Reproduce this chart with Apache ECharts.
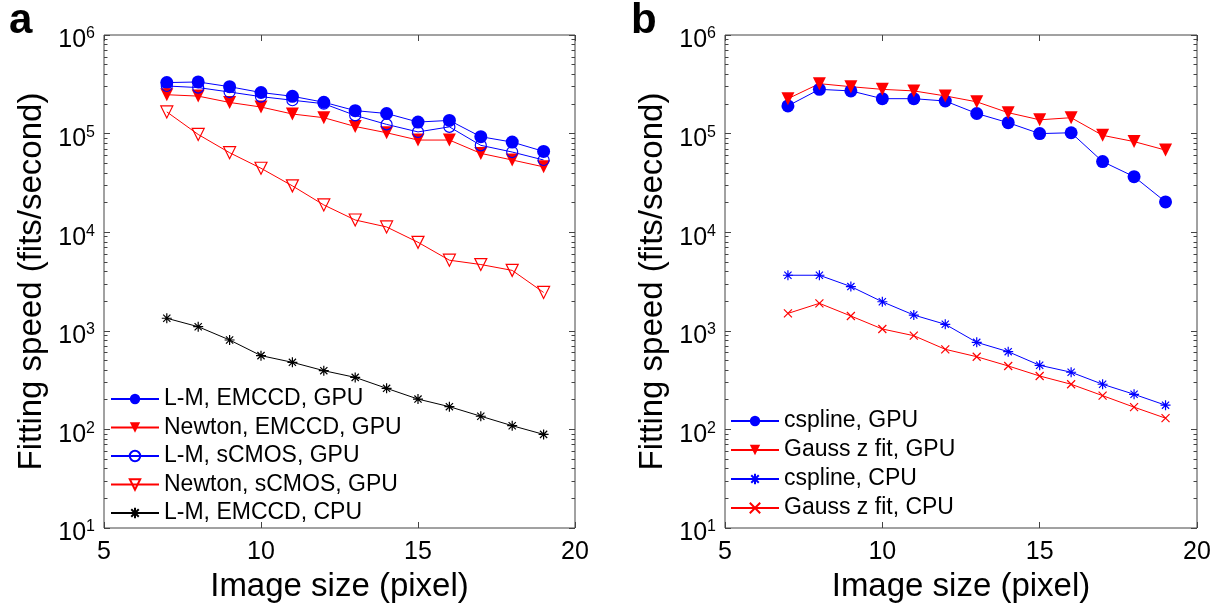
<!DOCTYPE html>
<html><head><meta charset="utf-8">
<script src="https://cdn.jsdelivr.net/npm/echarts@6/dist/echarts.min.js"></script>
<style>html,body{margin:0;padding:0;background:#fff}#c{width:1222px;height:614px}</style>
</head><body><div id="c"></div>
<script>
// ---------- data ----------
const imageSize = [7, 8, 9, 10, 11, 12, 13, 14, 15, 16, 17, 18, 19];
// panel a
const lmEmccdGpu     = [329000, 334000, 299000, 261000, 239000, 208000, 171000, 160000, 131000, 136000, 93000, 82000, 66000];
const newtonEmccdGpu = [248000, 240000, 207000, 186000, 158000, 145000, 118000, 102000, 86000, 86000, 63000, 54000, 46000];
const lmScmosGpu     = [304000, 293000, 264000, 237000, 218000, 201000, 153000, 124000, 104000, 117000, 76000, 65000, 54000];
const newtonScmosGpu = [166000, 98000, 64000, 44500, 29500, 18900, 13300, 11300, 7900, 5200, 4700, 4100, 2450];
const lmEmccdCpu     = [1340, 1100, 807, 560, 479, 394, 337, 261, 203, 170, 136, 109, 89];
// panel b
const csplineGpu = [191000, 281000, 271000, 226000, 226000, 214000, 160000, 129000, 100000, 102000, 52000, 36600, 20300];
const gaussGpu   = [226000, 321000, 299000, 281000, 271000, 241000, 210000, 163000, 138000, 145000, 96000, 83000, 68000];
const csplineCpu = [3660, 3660, 2810, 1970, 1445, 1164, 764, 614, 447, 380, 287, 227, 176];
const gaussCpu   = [1500, 1900, 1413, 1043, 892, 649, 546, 440, 348, 287, 220, 168, 130];

const namesA = ['L-M, EMCCD, GPU', 'Newton, EMCCD, GPU', 'L-M, sCMOS, GPU', 'Newton, sCMOS, GPU', 'L-M, EMCCD, CPU'];
const namesB = ['cspline, GPU', 'Gauss z fit, GPU', 'cspline, CPU', 'Gauss z fit, CPU'];
const panelLetters = ['a', 'b'];
const xTitle = 'Image size (pixel)';
const yTitle = 'Fitting speed (fits/second)';
const xMin = 5, xMax = 20, xStep = 5;
const yMin = 10, yMax = 1e6;
const minorMultipliers = [2, 3, 4, 5, 6, 7, 8, 9];
const decadeExps = [1, 2, 3, 4, 5];

// ---------- style ----------
const FONT = 'Liberation Sans, Arial, Helvetica, sans-serif';
const BLUE = '#0000ff', RED = '#ff0000', BLACK = '#000000';
const AX = '#444444';
const STAR = 'path://M0,-1L0,1M-1,0L1,0M-0.72,-0.72L0.72,0.72M-0.72,0.72L0.72,-0.72';
const CROSS = 'path://M-1,-1L1,1M-1,1L1,-1';

const minorLogs = [];
decadeExps.forEach(d => minorMultipliers.forEach(m => minorLogs.push(Math.log10(m) + d)));

const pair = arr => imageSize.map((x, i) => [x, arr[i]]);

function series(name, data, idx, color, symbol, size, filled, rotate) {
  return {
    name, type: 'line', data: pair(data),
    xAxisIndex: idx * 2, yAxisIndex: idx * 4,
    symbol, symbolSize: size, symbolRotate: rotate || 0,
    showAllSymbol: true,
    lineStyle: { color, width: 1 },
    itemStyle: filled
      ? { color, borderColor: color, borderWidth: 0 }
      : { color: 'rgba(0,0,0,0)', borderColor: color, borderWidth: 1.2 },
    emphasis: { disabled: true },
    animation: false, z: 3
  };
}

const grids = [
  { left: 104, top: 35, width: 471, height: 493 },
  { left: 725, top: 35, width: 472, height: 493 }
].map(g => Object.assign(g, { show: true, borderColor: AX, borderWidth: 1, backgroundColor: 'transparent' }));

const tickLine = { color: AX, width: 1 };
const xAxes = [], yAxes = [];
[0, 1].forEach(gi => {
  xAxes.push({
    gridIndex: gi, type: 'value', position: 'bottom', min: xMin, max: xMax, interval: xStep,
    name: xTitle, nameLocation: 'middle', nameGap: 42,
    nameTextStyle: { fontSize: 33, color: BLACK, fontFamily: FONT },
    axisLine: { show: false },
    axisTick: { inside: true, length: 6, lineStyle: tickLine },
    axisLabel: { fontSize: 25, color: BLACK, fontFamily: FONT, margin: 12, showMinLabel: true, showMaxLabel: true, hideOverlap: false },
    splitLine: { show: false }
  });
  xAxes.push({
    gridIndex: gi, type: 'value', position: 'top', min: xMin, max: xMax, interval: xStep,
    axisLine: { show: false },
    axisTick: { inside: true, length: 6, lineStyle: tickLine },
    axisLabel: { show: false }, splitLine: { show: false }
  });
  yAxes.push({
    gridIndex: gi, type: 'log', logBase: 10, position: 'left', min: yMin, max: yMax,
    name: yTitle, nameLocation: 'middle', nameGap: 56,
    nameTextStyle: { fontSize: 33, color: BLACK, fontFamily: FONT },
    axisLine: { show: false },
    axisTick: { inside: true, length: 6, lineStyle: tickLine },
    axisLabel: {
      margin: 9, padding: [7, 0, 0, 0],
      formatter: v => '{b|10}{s|' + Math.round(Math.log10(v)) + '}',
      rich: {
        b: { fontSize: 25, lineHeight: 25, color: BLACK, fontFamily: FONT, padding: [4, 0, 0, 0] },
        s: { fontSize: 16, lineHeight: 16, color: BLACK, fontFamily: FONT, verticalAlign: 'top' }
      },
      showMinLabel: true, showMaxLabel: true
    },
    splitLine: { show: false }, minorTick: { show: false }
  });
  yAxes.push({
    gridIndex: gi, type: 'log', logBase: 10, position: 'right', min: yMin, max: yMax,
    axisLine: { show: false },
    axisTick: { inside: true, length: 6, lineStyle: tickLine },
    axisLabel: { show: false }, splitLine: { show: false }
  });
  ['left', 'right'].forEach(pos => yAxes.push({
    gridIndex: gi, type: 'value', position: pos, min: decadeExps[0], max: decadeExps[decadeExps.length - 1] + 1,
    axisLine: { show: false },
    axisTick: { inside: true, length: 3.5, lineStyle: tickLine, customValues: minorLogs },
    axisLabel: { show: false }, splitLine: { show: false }
  }));
});

const legendBase = {
  orient: 'vertical', padding: 0, itemWidth: 48, itemHeight: 13,
  textStyle: { fontSize: 23, color: BLACK, fontFamily: FONT, lineHeight: 26 },
  icon: undefined, inactiveColor: '#ccc', selectedMode: false
};

const option = {
  backgroundColor: '#ffffff',
  animation: false,
  title: [
    { text: panelLetters[0], left: 9, top: 0, padding: 0, textStyle: { fontSize: 42, fontWeight: 'bold', color: BLACK, fontFamily: FONT } },
    { text: panelLetters[1], left: 631, top: 0, padding: 0, textStyle: { fontSize: 42, fontWeight: 'bold', color: BLACK, fontFamily: FONT } }
  ],
  grid: grids,
  xAxis: xAxes,
  yAxis: yAxes,
  legend: [
    Object.assign({}, legendBase, { data: namesA, left: 110, top: 386, itemGap: 2.5 }),
    Object.assign({}, legendBase, { data: namesB, left: 730, top: 408, itemGap: 3 })
  ],
  series: [
    series(namesA[0], lmEmccdGpu, 0, BLUE, 'circle', 13, true),
    series(namesA[1], newtonEmccdGpu, 0, RED, 'triangle', 13, true, 180),
    series(namesA[2], lmScmosGpu, 0, BLUE, 'circle', 11, false),
    series(namesA[3], newtonScmosGpu, 0, RED, 'triangle', 12, false, 180),
    series(namesA[4], lmEmccdCpu, 0, BLACK, STAR, 10, false),
    series(namesB[0], csplineGpu, 1, BLUE, 'circle', 13, true),
    series(namesB[1], gaussGpu, 1, RED, 'triangle', 13, true, 180),
    series(namesB[2], csplineCpu, 1, BLUE, STAR, 10, false),
    series(namesB[3], gaussCpu, 1, RED, CROSS, 8, false)
  ]
};

const chart = echarts.init(document.getElementById('c'), null, { renderer: 'canvas' });
chart.setOption(option);
</script>
</body></html>
